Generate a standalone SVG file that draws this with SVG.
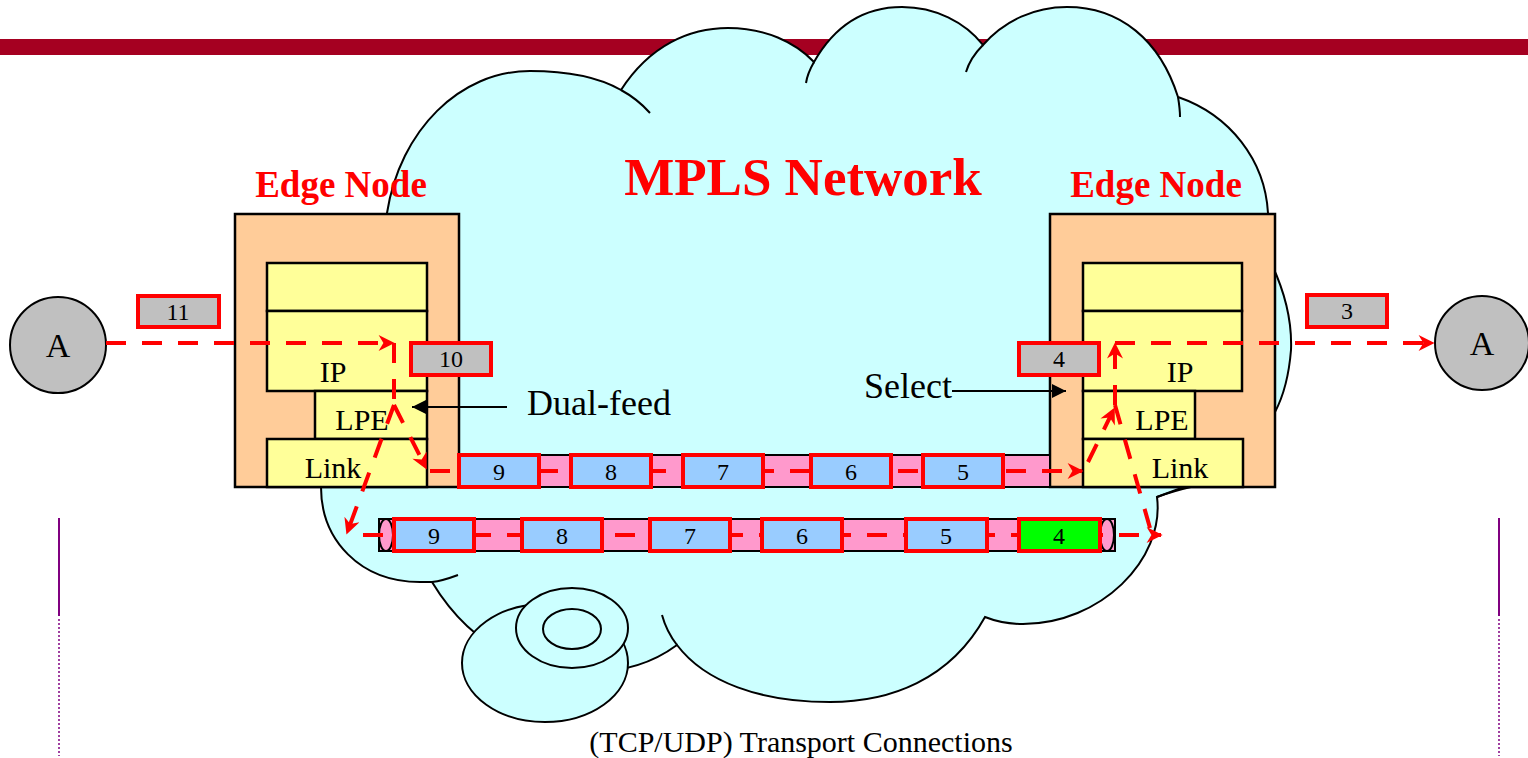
<svg xmlns="http://www.w3.org/2000/svg" width="1528" height="758" viewBox="0 0 1528 758">
<defs>
<style>
.cloud{fill:#CCFFFF;stroke:#000;stroke-width:2}
.tail{fill:none;stroke:#000;stroke-width:2}
.node{fill:#FFCC99;stroke:#000;stroke-width:2.5}
.layer{fill:#FFFF99;stroke:#000;stroke-width:2.5}
.lbl{font-family:"Liberation Serif","Times New Roman",serif;font-size:30px;fill:#000;text-anchor:middle}
.host{font-family:"Liberation Serif","Times New Roman",serif;font-size:34px;fill:#000;text-anchor:middle}
.num{font-family:"Liberation Serif","Times New Roman",serif;font-size:24px;fill:#000;text-anchor:middle}
.title{font-family:"Liberation Serif","Times New Roman",serif;font-weight:bold;fill:#FF0000;text-anchor:middle}
.gray{fill:#C0C0C0;stroke:#FF0000;stroke-width:4}
.blue{fill:#99CCFF;stroke:#FF0000;stroke-width:4}
.green{fill:#00FF00;stroke:#FF0000;stroke-width:4}
.pipe{fill:#FF99CC;stroke:#000;stroke-width:2}
.flow{fill:none;stroke:#FF0000;stroke-width:4;stroke-dasharray:20 16}
.flowa{fill:none;stroke:#FF0000;stroke-width:4;stroke-dasharray:20 16;marker-end:url(#ra)}
.ptr{fill:none;stroke:#000;stroke-width:2;marker-end:url(#ba)}
.side{font-family:"Liberation Serif","Times New Roman",serif;font-size:36px;fill:#000;text-anchor:start}
</style>
<marker id="ra" viewBox="0 0 10 10" refX="9" refY="5" markerWidth="18" markerHeight="16" markerUnits="userSpaceOnUse" orient="auto">
<path d="M0,0 L10,5 L0,10 L3,5 Z" fill="#FF0000"/>
</marker>
<marker id="ba" viewBox="0 0 10 10" refX="10" refY="5" markerWidth="16" markerHeight="14" markerUnits="userSpaceOnUse" orient="auto">
<path d="M0,0 L10,5 L0,10 Z" fill="#000"/>
</marker>
</defs>

<rect x="0" y="39" width="1528" height="16" fill="#A50021"/>
<line x1="59" y1="518" x2="59" y2="616" stroke="#800080" stroke-width="2"/>
<line x1="59" y1="619" x2="59" y2="756" stroke="#A040A0" stroke-width="2" stroke-dasharray="2 2"/>
<line x1="1499" y1="518" x2="1499" y2="616" stroke="#800080" stroke-width="2"/>
<line x1="1499" y1="619" x2="1499" y2="756" stroke="#A040A0" stroke-width="2" stroke-dasharray="2 2"/>

<g id="cloud">
<path class="cloud" d="M380,300 L387,213 C400,130 460,71 530,71 C570,71 600,78 621,90 C650,45 690,28 728,28 C765,28 795,42 814,62 C835,25 865,7 902,7 C935,7 965,22 983,45 C1005,20 1035,7 1067,7 C1120,7 1160,40 1178,97 C1230,115 1265,160 1268,213 L1272,265 C1286,295 1292,325 1291,350 C1289,375 1284,395 1275,412 L1230,470 L1157,497 C1165,560 1100,624 1023,624 C1008,624 995,621 985,617 C950,680 890,702 830,702 C760,702 705,682 677,645 C650,665 620,672 590,672 C500,672 455,620 432,582 C428,582 424,582 420,582 C360,582 321,540 321,487 L321,300 Z"/>
<path class="tail" d="M621,90 C632,96 642,104 650,113"/>
<path class="tail" d="M814,62 C810,69 807,76 806,83"/>
<path class="tail" d="M983,45 C975,53 969,62 966,72"/>
<path class="tail" d="M1178,97 C1179,103 1180,110 1180,117"/>
<path class="tail" d="M432,582 C442,581 450,578 458,575"/>
<path class="tail" d="M677,645 C670,636 665,626 662,615"/>
<path class="tail" d="M1157,497 C1170,492 1182,489 1195,486"/>
<ellipse class="cloud" cx="545" cy="663" rx="83" ry="59"/>
<ellipse class="cloud" cx="572" cy="628" rx="56" ry="40"/>
<ellipse class="cloud" cx="572" cy="629" rx="29" ry="20"/>
</g>

<text class="title" x="803" y="195" font-size="53">MPLS Network</text>

<g id="edge-left">
<text class="title" x="341" y="197" font-size="37">Edge Node</text>
<rect class="node" x="235" y="214" width="224" height="273"/>
<rect class="layer" x="267" y="263" width="160" height="48"/>
<rect class="layer" x="267" y="311" width="160" height="80"/>
<rect class="layer" x="315" y="391" width="112" height="48"/>
<rect class="layer" x="267" y="439" width="160" height="48"/>
<text class="lbl" x="333" y="382">IP</text>
<text class="lbl" x="362" y="430">LPE</text>
<text class="lbl" x="333" y="478">Link</text>
</g>

<g id="edge-right">
<text class="title" x="1156" y="197" font-size="37">Edge Node</text>
<rect class="node" x="1050" y="214" width="225" height="273"/>
<rect class="layer" x="1083" y="263" width="159" height="48"/>
<rect class="layer" x="1083" y="311" width="159" height="80"/>
<rect class="layer" x="1083" y="391" width="112" height="48"/>
<rect class="layer" x="1083" y="439" width="160" height="48"/>
<text class="lbl" x="1180" y="382">IP</text>
<text class="lbl" x="1162" y="430">LPE</text>
<text class="lbl" x="1180" y="478">Link</text>
</g>

<g id="host-left">
<circle cx="58" cy="345" r="48" fill="#C0C0C0" stroke="#000" stroke-width="2"/>
<text class="host" x="58" y="357">A</text>
</g>
<g id="host-right">
<circle cx="1482" cy="343" r="47" fill="#C0C0C0" stroke="#000" stroke-width="2"/>
<text class="host" x="1482" y="355">A</text>
</g>

<g id="pipe-upper">
<rect class="pipe" x="459" y="455" width="591" height="32"/>
</g>
<g id="pipe-lower">
<rect class="pipe" x="379" y="519" width="736" height="32"/>
<ellipse class="pipe" cx="386" cy="535" rx="7" ry="16"/>
<ellipse class="pipe" cx="1107" cy="535" rx="7" ry="16"/>
</g>

<g id="connectors">
<path class="flowa" d="M106,343 H393"/>
<path class="flow" d="M394,343 V405"/>
<path class="flowa" d="M394,405 L426,468"/>
<path class="flowa" d="M394,405 L347,533"/>
<path class="flowa" d="M430,471 H1082"/>
<path class="flowa" d="M363,535 H1161"/>
<path class="flowa" d="M1088,462 L1114,409"/>
<path class="flow" d="M1115,405 L1150,528"/>
<path class="flowa" d="M1115,405 V344"/>
<path class="flowa" d="M1115,343 H1433"/>
<path class="ptr" d="M507,407 H412"/>
<path class="ptr" d="M952,391 H1066"/>
</g>

<g id="labels-upper">
<rect class="blue" x="459" y="455" width="80" height="32"/><text class="num" x="499" y="480">9</text>
<rect class="blue" x="571" y="455" width="80" height="32"/><text class="num" x="611" y="480">8</text>
<rect class="blue" x="683" y="455" width="80" height="32"/><text class="num" x="723" y="480">7</text>
<rect class="blue" x="811" y="455" width="80" height="32"/><text class="num" x="851" y="480">6</text>
<rect class="blue" x="923" y="455" width="80" height="32"/><text class="num" x="963" y="480">5</text>
</g>
<g id="labels-lower">
<rect class="blue" x="394" y="519" width="80" height="32"/><text class="num" x="434" y="544">9</text>
<rect class="blue" x="522" y="519" width="80" height="32"/><text class="num" x="562" y="544">8</text>
<rect class="blue" x="650" y="519" width="80" height="32"/><text class="num" x="690" y="544">7</text>
<rect class="blue" x="762" y="519" width="80" height="32"/><text class="num" x="802" y="544">6</text>
<rect class="blue" x="906" y="519" width="81" height="32"/><text class="num" x="946" y="544">5</text>
<rect class="green" x="1019" y="519" width="81" height="32"/><text class="num" x="1059" y="544">4</text>
</g>
<g id="labels-gray">
<rect class="gray" x="138" y="296" width="81" height="31"/><text class="num" x="178" y="320">11</text>
<rect class="gray" x="411" y="343" width="80" height="32"/><text class="num" x="451" y="367">10</text>
<rect class="gray" x="1019" y="343" width="80" height="32"/><text class="num" x="1059" y="367">4</text>
<rect class="gray" x="1307" y="295" width="80" height="32"/><text class="num" x="1347" y="319">3</text>
</g>

<text class="side" x="527" y="415">Dual-feed</text>
<text class="side" x="864" y="398">Select</text>
<text class="lbl" x="801" y="752">(TCP/UDP) Transport Connections</text>
</svg>
